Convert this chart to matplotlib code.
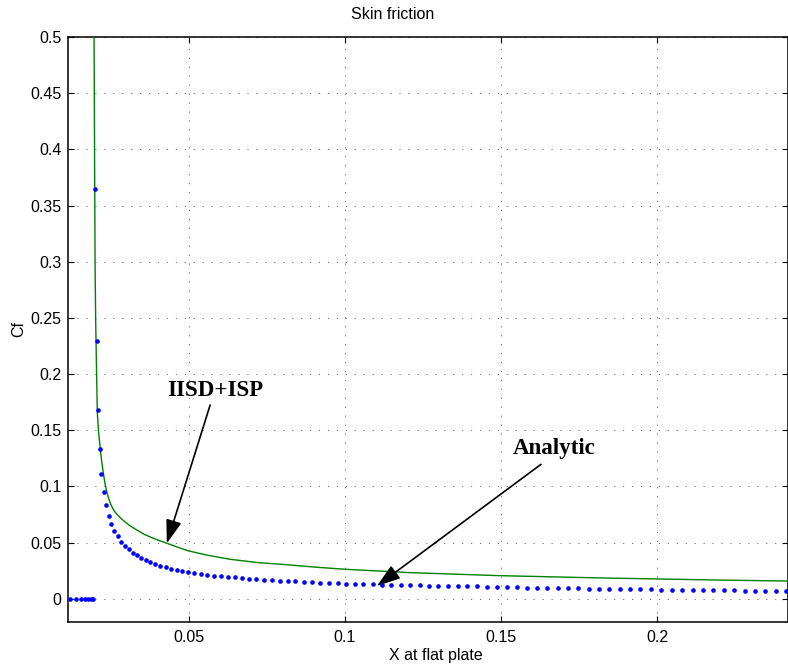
import matplotlib
matplotlib.use("Agg")
import matplotlib.pyplot as plt

# numerical skin friction (blue dots): zeros ahead of the plate, then the plate itself
x_num = [0.01196, 0.01388, 0.01548, 0.01676, 0.01773, 0.01859, 0.01942,
         0.02007, 0.02051, 0.02093, 0.02148, 0.02199, 0.02276, 0.02349, 0.02436,
         0.02519, 0.02615, 0.02724, 0.02830, 0.02949, 0.03077, 0.03205, 0.03333,
         0.03471, 0.03622, 0.03769, 0.03920, 0.04090, 0.04263, 0.04433, 0.04615,
         0.04785, 0.04968, 0.05180, 0.05385, 0.05587, 0.05801, 0.06026, 0.06250,
         0.06468, 0.06708, 0.06933, 0.07167, 0.07413, 0.07660, 0.07917, 0.08173,
         0.08416, 0.08686, 0.08952, 0.09218, 0.09497, 0.09775, 0.10041, 0.10320,
         0.10596, 0.10897, 0.11195, 0.11484, 0.11795, 0.12093, 0.12391, 0.12692,
         0.12990, 0.13301, 0.13609, 0.13920, 0.14230, 0.14551, 0.14881, 0.15192,
         0.15512, 0.15833, 0.16153, 0.16484, 0.16814, 0.17147, 0.17477, 0.17807,
         0.18140, 0.18470, 0.18801, 0.19134, 0.19464, 0.19807, 0.20137, 0.20467,
         0.20800, 0.21140, 0.21474, 0.21804, 0.22147, 0.22477, 0.22807, 0.23140,
         0.23470, 0.23813, 0.24143]
cf_num = [0, 0, 0, 0, 0, 0, 0,
          0.365, 0.2294, 0.1682, 0.1335, 0.1110, 0.0950, 0.0831, 0.0739,
          0.0665, 0.0605, 0.0555, 0.0507, 0.0472, 0.0440, 0.0409, 0.0386,
          0.0362, 0.0342, 0.0324, 0.0309, 0.0294, 0.0282, 0.0267, 0.0258,
          0.0249, 0.0240, 0.0231, 0.0223, 0.0214, 0.0205, 0.0199, 0.0193,
          0.0190, 0.0184, 0.0178, 0.0173, 0.0169, 0.0166, 0.0160, 0.0158,
          0.0155, 0.0151, 0.0146, 0.0142, 0.0140, 0.0137, 0.0134, 0.0132,
          0.0131, 0.0128, 0.0126, 0.0124, 0.0122, 0.0119, 0.0118, 0.0116,
          0.0115, 0.0113, 0.0112, 0.0110, 0.0109, 0.0107, 0.0105, 0.0103,
          0.0101, 0.0099, 0.0097, 0.0096, 0.0094, 0.0093, 0.0091, 0.0089,
          0.0088, 0.0087, 0.0086, 0.0085, 0.0084, 0.0083, 0.0081, 0.0080,
          0.0079, 0.0078, 0.0077, 0.0076, 0.0075, 0.0074, 0.0073, 0.0072,
          0.0071, 0.0070, 0.0069]

# analytic curve (green)
x_ana = [0.01965, 0.01980, 0.01997, 0.02015, 0.02039, 0.02070, 0.02110,
         0.02157, 0.02210, 0.02263, 0.02315, 0.02372, 0.02435, 0.02500,
         0.02580, 0.02670, 0.02790, 0.02900, 0.03100, 0.03333, 0.03550,
         0.03800, 0.04050, 0.04300, 0.04650, 0.04970, 0.05600, 0.06320,
         0.07200, 0.08250, 0.09100, 0.10010, 0.12090, 0.14980, 0.18180,
         0.20000, 0.22000, 0.24270]
cf_ana = [0.5, 0.400, 0.300, 0.250, 0.210, 0.1650, 0.1480,
          0.1353, 0.1220, 0.1116, 0.1025, 0.0950, 0.0890, 0.0840,
          0.0795, 0.0760, 0.0725, 0.0697, 0.0652, 0.0612, 0.0576,
          0.0545, 0.0518, 0.0493, 0.0458, 0.0427, 0.0387, 0.0351,
          0.0322, 0.0300, 0.0280, 0.0262, 0.0232, 0.0205, 0.0185,
          0.0176, 0.0166, 0.0157]

x_ticks = [0.05, 0.1, 0.15, 0.2]
x_labels = ['0.05', '0.1', '0.15', '0.2']
y_ticks = [0, 0.05, 0.1, 0.15, 0.2, 0.25, 0.3, 0.35, 0.4, 0.45, 0.5]
y_labels = ['0', '0.05', '0.1', '0.15', '0.2', '0.25', '0.3', '0.35', '0.4', '0.45', '0.5']

plt.rcParams['font.family'] = ['Liberation Sans', 'DejaVu Sans']

fig = plt.figure(figsize=(7.88, 6.69), dpi=100)
ax = fig.add_axes([0.0867, 0.0703, 0.9127, 0.8744])

ax.plot(x_ana, cf_ana, color=(0, 0.5, 0), lw=1.0, zorder=3)
ax.plot(x_num, cf_num, ls='none', marker='.', ms=4.6, color='blue', zorder=4)

ax.set_xlim(0.0114, 0.2418)
ax.set_ylim(-0.0207, 0.5)
ax.set_xticks(x_ticks)
ax.set_xticklabels(x_labels)
ax.set_yticks(y_ticks)
ax.set_yticklabels(y_labels)
ax.tick_params(direction='in', length=4, width=0.8, top=True, right=True,
               labelsize=11.5)
ax.tick_params(axis='y', pad=5)
ax.tick_params(axis='x', pad=6)
ax.grid(True, color='#707070', lw=0.7, ls=(0, (1.2, 8)))
for s in ax.spines.values():
    s.set_linewidth(1.1)

ax.set_title('Skin friction', fontsize=11.5, pad=13, x=0.451)
ax.set_xlabel('X at flat plate', fontsize=11.5, labelpad=2, x=0.511)
ax.set_ylabel('Cf', fontsize=11.5)
ax.yaxis.set_label_coords(-0.058, 0.5)

arrow = dict(arrowstyle='-|>,head_length=0.6,head_width=0.2', color='black',
             lw=1.2, mutation_scale=24, shrinkA=0, shrinkB=0)
ax.annotate('', xy=(0.04295, 0.0493), xytext=(0.05683, 0.1724), arrowprops=arrow)
ax.text(0.05848, 0.1849, 'IISD+ISP', family=['Liberation Serif'], weight='bold',
        fontsize=16.5, ha='center', va='center')
ax.annotate('', xy=(0.11025, 0.0113), xytext=(0.16282, 0.1196), arrowprops=arrow)
ax.text(0.16708, 0.1333, 'Analytic', family=['Liberation Serif'], weight='bold',
        fontsize=16.5, ha='center', va='center')

fig.savefig('out.png', dpi=100)
